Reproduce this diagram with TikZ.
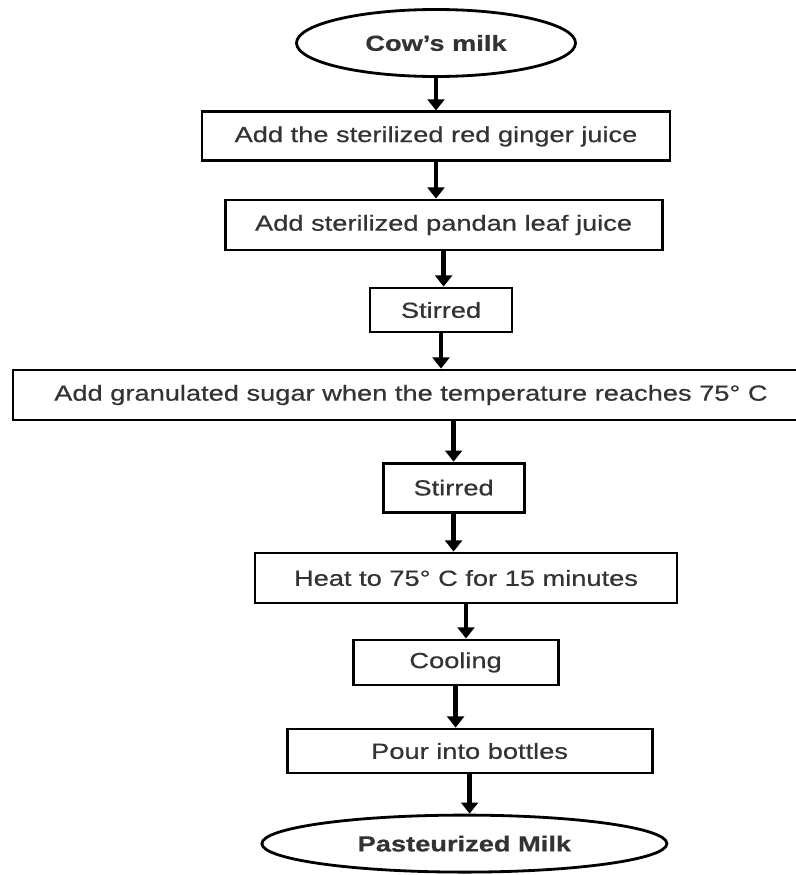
\documentclass[tikz,border=0pt]{standalone}
\usepackage{fontspec}
\setmainfont[FakeStretch=1.25, FakeBold=0.6]{Liberation Sans}
\usetikzlibrary{arrows.meta, positioning, shapes.geometric}
\tikzset{
    procnode/.style={rectangle, draw, line width=2pt, inner sep=2pt, text=black!80, font=\fontsize{15.5}{18}\selectfont},
    termnode/.style={ellipse, draw, line width=2pt, inner sep=0pt, text=black!80, font=\fontsize{15.5}{18}\selectfont\bfseries},
    flowarrow/.style={->, line width=3.2pt}
}
\begin{document}
\begin{tikzpicture}[>={Triangle[width=0.42cm, length=0.28cm]}]
  \useasboundingbox (0,0) rectangle (19.9,-21.875);
  \node[termnode, minimum width=6.975cm, minimum height=1.675cm] (milk) at (10.90, -1.075) {Cow’s milk};
  \node[procnode, minimum width=11.7cm, minimum height=1.225cm] (s1) at (10.90, -3.41) {Add the sterilized red ginger juice};
  \node[procnode, minimum width=10.925cm, minimum height=1.25cm] (s2) at (11.09, -5.625) {Add sterilized pandan leaf juice};
  \node[procnode, minimum width=3.55cm, minimum height=1.1cm] (s3) at (11.025, -7.75) {Stirred};
  \node[procnode, minimum width=19.9cm, minimum height=1.25cm] (s4) at (10.275, -9.875) {Add granulated sugar when the temperature reaches 75\textdegree\ C};
  \node[procnode, minimum width=3.525cm, minimum height=1.225cm] (s5) at (11.34, -12.19) {Stirred};
  \node[procnode, minimum width=10.55cm, minimum height=1.25cm] (s6) at (11.65, -14.45) {Heat to 75\textdegree\ C for 15 minutes};
  \node[procnode, minimum width=5.125cm, minimum height=1.125cm] (s7) at (11.39, -16.56) {Cooling};
  \node[procnode, minimum width=9.125cm, minimum height=1.1cm] (s8) at (11.74, -18.775) {Pour into bottles};
  \node[termnode, minimum width=10.125cm, minimum height=1.425cm] (pmilk) at (11.61, -21.09) {Pasteurized Milk};
  \draw[flowarrow] (milk.south) -- (milk.south |- s1.north);
  \draw[flowarrow] (s1.south) -- (s1.south |- s2.north);
  \draw[flowarrow] (s2.south) -- (s2.south |- s3.north);
  \draw[flowarrow] (s3.south) -- (s3.south |- s4.north);
  \draw[flowarrow] (s5.north |- s4.south) -- (s5.north);
  \draw[flowarrow] (s5.south) -- (s5.south |- s6.north);
  \draw[flowarrow] (s6.south) -- (s6.south |- s7.north);
  \draw[flowarrow] (s7.south) -- (s7.south |- s8.north);
  \draw[flowarrow] (s8.south) -- (s8.south |- pmilk.north);
\end{tikzpicture}
\end{document}
